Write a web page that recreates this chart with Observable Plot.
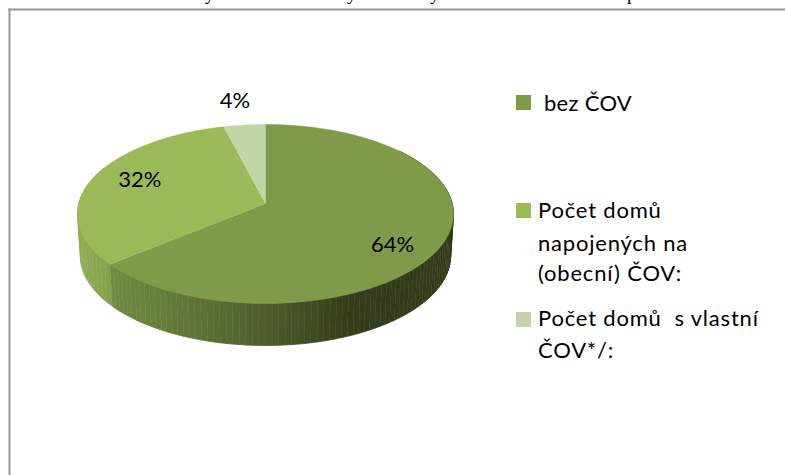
<!DOCTYPE html>
<html>
<head>
<meta charset="utf-8">
<script src="https://cdn.jsdelivr.net/npm/d3@7"></script>
<script src="https://cdn.jsdelivr.net/npm/@observablehq/plot@0.6"></script>
<style>
html,body{margin:0;padding:0;background:#fff;overflow:hidden}
#wrap{position:relative;width:785px;height:475px;overflow:hidden}
#wrap svg{position:absolute;left:0;top:0;background:transparent}
.sw{position:absolute;width:15px;height:15px}
.ln{position:absolute;font:22px Lato,Carlito,sans-serif;color:#000;line-height:24px;white-space:pre;letter-spacing:.8px}
.cut{position:absolute;font:19px "Liberation Serif",serif;color:#000;line-height:20px;top:-16px}
</style>
</head>
<body>
<div id="wrap"></div>
<script>
const categories = ["bez ČOV", "Počet domů napojených na (obecní) ČOV:", "Počet domů s vlastní ČOV*/:"];
const shares = [64, 32, 4];
const sliceColors = ["#7f9a48", "#9bbb59", "#c3d5a7"];
const legendLines = [["bez ČOV"], ["Počet domů", "napojených na", "(obecní) ČOV:"], ["Počet domů  s vlastní", "ČOV*/:"]];
const clippedHeading = ["y", "y", "y", "p"];

// Perspective view of the unit pie; angle runs clockwise from the top.
const persp = 0.117;
const ptX = (a, r = 1) => (r * Math.sin(a)) / (1 + persp * r * Math.cos(a));
const ptY = (a, r = 1) => (r * Math.cos(a)) / (1 + persp * r * Math.cos(a));
const depth = 42 / 88.3, shrink = 0.985;
const toAngle = (p) => (p / 100) * 2 * Math.PI;

const cum = d3.cumsum(shares);
const starts = shares.map((s, i) => cum[i] - s);

// top faces
const faces = shares.flatMap((s, i) => {
  const n = Math.ceil(s * 3);
  const pts = [{id: i, x: 0, y: 0, fill: sliceColors[i]}];
  for (let k = 0; k <= n; k++) {
    const a = toAngle(starts[i] + (s * k) / n);
    pts.push({id: i, x: ptX(a), y: ptY(a), fill: sliceColors[i]});
  }
  return pts;
});

// side wall: strips along the front of the two visible slices
const shade64 = d3.scaleLinear().domain([-0.82, -0.52, 0, 0.45, 1]).range(["#6f8b40", "#657b3b", "#4e5d2b", "#333d1a", "#323b19"]);
const shade32 = d3.scaleLinear().domain([-1, -0.83]).range(["#8fae55", "#84a04b"]);
const wall = [];
const addWall = (from, to, n, shade, tag) => {
  for (let k = 0; k < n; k++) {
    const a0 = toAngle(from + ((to - from) * k) / n);
    const a1 = toAngle(from + ((to - from) * (k + 1)) / n);
    const id = tag + k, fill = shade(ptX((a0 + a1) / 2 === 0 ? a0 : (a0 + a1) / 2));
    wall.push({id, x: ptX(a0), y: ptY(a0), fill});
    wall.push({id, x: ptX(a1), y: ptY(a1), fill});
    wall.push({id, x: ptX(a1) * shrink, y: ptY(a1) - depth, fill});
    wall.push({id, x: ptX(a0) * shrink, y: ptY(a0) - depth, fill});
  }
};
addWall(14, cum[0], 100, shade64, "a");
addWall(cum[0], 82, 24, shade32, "b");

const labels = shares.map((s, i) => {
  const a = toAngle(starts[i] + s / 2);
  return {text: s + "%", x: ptX(a, 0.72), y: ptY(a, 0.72), i};
});

const labelText = (i, dx, dy) => Plot.text(labels.filter((d) => d.i === i), {
  x: "x", y: "y", text: "text", dx, dy,
  fontFamily: "Lato, Carlito, sans-serif", fontSize: 22, fill: "#000"
});

const chart = Plot.plot({
  width: 785, height: 475,
  marginTop: 9, marginLeft: 9, marginRight: 0, marginBottom: 0,
  style: {background: "transparent"},
  x: {domain: [-1, 1], range: [265 - 186.7, 265 + 186.7], axis: null},
  y: {domain: [-1, 1], range: [203 + 88.3, 203 - 88.3], axis: null},
  color: {type: "identity"},
  marks: [
    Plot.frame({anchor: "top", stroke: "#979797", strokeWidth: 2}),
    Plot.frame({anchor: "left", stroke: "#979797", strokeWidth: 2}),
    Plot.line(wall, {x: "x", y: "y", z: "id", fill: "fill", stroke: "fill", strokeWidth: 0.8}),
    Plot.line(faces, {x: "x", y: "y", z: "id", fill: "fill", stroke: "fill", strokeWidth: 0.4}),
    labelText(0, 1, 13),
    labelText(1, -1, -4),
    labelText(2, -15, -44)
  ]
});

const wrap = document.getElementById("wrap");
wrap.appendChild(chart);

// clipped heading above the chart frame
[210, 352, 435, 632].forEach((x, i) => {
  const el = document.createElement("span");
  el.className = "cut";
  el.textContent = clippedHeading[i];
  el.style.left = (x - 5) + "px";
  wrap.appendChild(el);
});

// legend
const swatchTop = [95, 203, 312];
const lineTop = [[91], [198, 231, 261], [306, 338]];
const lineLeft = [544, 538, 538];
categories.forEach((c, i) => {
  const sw = document.createElement("div");
  sw.className = "sw";
  sw.title = c;
  sw.style.cssText = `left:516px;top:${swatchTop[i]}px;background:${sliceColors[i]}`;
  wrap.appendChild(sw);
  legendLines[i].forEach((t, j) => {
    const el = document.createElement("div");
    el.className = "ln";
    el.textContent = t;
    el.style.left = lineLeft[i] + "px";
    el.style.top = lineTop[i][j] + "px";
    if (i === 0) el.style.letterSpacing = ".3px";
    wrap.appendChild(el);
  });
});
</script>
</body>
</html>
